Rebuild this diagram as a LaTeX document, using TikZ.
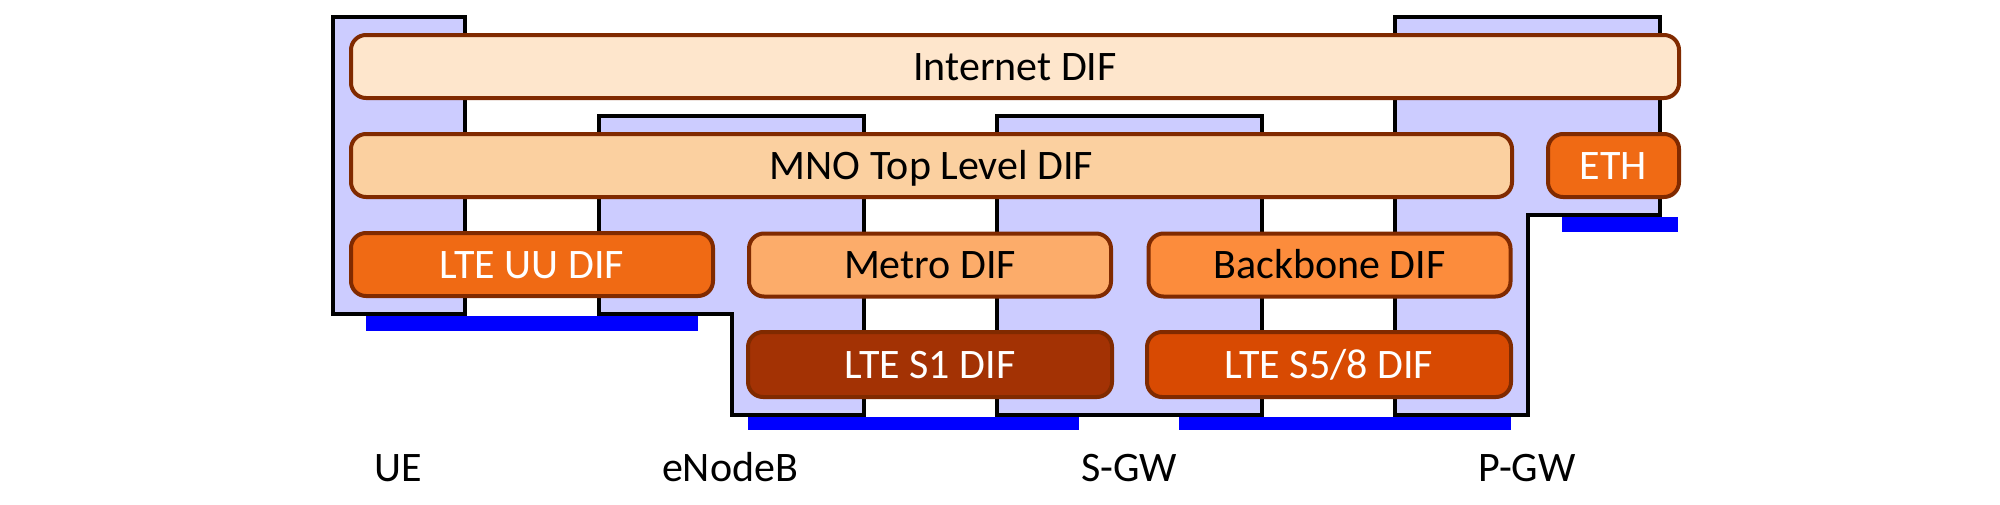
\documentclass[tikz,border=0pt]{standalone}
\usepackage{fontspec}
\setmainfont{Carlito}
\usepackage{tikz}
\usepackage{color}
\definecolor{lilac}{HTML}{CCCCFF}
\definecolor{difborder}{HTML}{802A00}
\definecolor{linkblue}{HTML}{0000FF}
\definecolor{inetfill}{HTML}{FEE6CC}
\definecolor{mnofill}{HTML}{FBD0A0}
\definecolor{metrofill}{HTML}{FCAC6A}
\definecolor{backbonefill}{HTML}{FC8C3C}
\definecolor{ethfill}{HTML}{F06A14}
\definecolor{sonefill}{HTML}{A33204}
\definecolor{sfivefill}{HTML}{D84A02}

\begin{document}
\begin{tikzpicture}[x=1pt, y=-1pt,
	every node/.style = {font=\fontsize{42}{50}\selectfont, inner sep=0pt},
	dif/.style = {shape=rectangle, rounded corners=15pt,
		draw=difborder, line width=4pt, align=center,
		text height=27pt, text depth=0pt,
		minimum width=362pt, minimum height=63pt},
	host/.style = {draw=black, fill=lilac, line width=4pt},
	link/.style = {fill=linkblue}]
	\useasboundingbox (0,0) rectangle (2000,504);
	\draw[host] (333,17) rectangle (465,314);
	\draw[host] (599,116) -- (864,116) -- (864,415) -- (732,415)
		-- (732,314) -- (599,314) -- cycle;
	\draw[host] (997,116) rectangle (1262,415);
	\draw[host] (1395,17) -- (1660,17) -- (1660,215) -- (1528,215)
		-- (1528,415) -- (1395,415) -- cycle;
	\fill[link] (366,316) rectangle (698,331);
	\fill[link] (748,417) rectangle (1079,430);
	\fill[link] (1179,417) rectangle (1511,430);
	\fill[link] (1562,217) rectangle (1678,232);
	\node[dif, fill=inetfill, minimum width=1328pt] (internet) at (1015,66.5) {Internet DIF};
	\node[dif, fill=mnofill, minimum width=1161pt] (mno) at (931.5,165.5) {MNO Top Level DIF};
	\node[dif, fill=ethfill, text=white, minimum width=131pt] (eth) at (1613.5,165.5) {ETH};
	\node[dif, fill=ethfill, text=white] (uu) at (532,264.5) {LTE UU DIF};
	\node[dif, fill=metrofill] (metro) at (930,265) {Metro DIF};
	\node[dif, fill=backbonefill] (backbone) at (1329.5,265) {Backbone DIF};
	\node[dif, fill=sonefill, text=white, minimum width=364pt, minimum height=65pt] (s1) at (930,364.5) {LTE S1 DIF};
	\node[dif, fill=sfivefill, text=white, minimum width=364pt, minimum height=65pt] (s58) at (1329,364.5) {LTE S5/8 DIF};
	\node[anchor=base] (ue) at (398,481) {UE};
	\node[anchor=base] (enodeb) at (730,481) {eNodeB};
	\node[anchor=base] (sgw) at (1129,481) {S-GW};
	\node[anchor=base] (pgw) at (1527,481) {P-GW};
\end{tikzpicture}
\end{document}
